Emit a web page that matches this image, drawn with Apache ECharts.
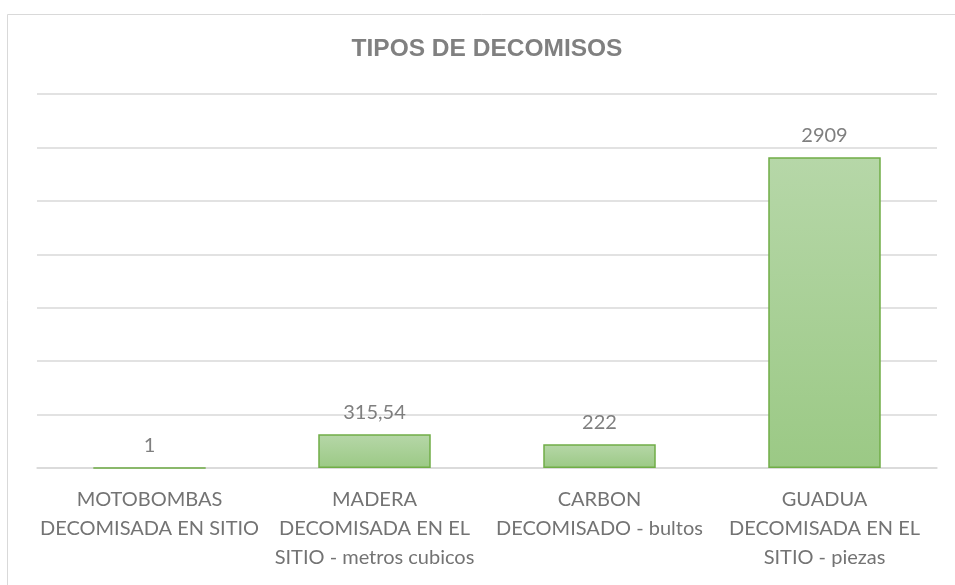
<!DOCTYPE html>
<html>
<head>
<meta charset="utf-8">
<script src="https://cdn.jsdelivr.net/npm/echarts@6/dist/echarts.min.js"></script>
<style>
  html, body { margin: 0; padding: 0; background: #ffffff; }
  #chart { width: 955px; height: 585px; }
</style>
</head>
<body>
<div id="chart"></div>
<script>
// Seizure categories (line breaks kept as shown under each bar)
const categories = [
  'MOTOBOMBAS\nDECOMISADA EN SITIO',
  'MADERA\nDECOMISADA EN EL\nSITIO - metros cubicos',
  'CARBON\nDECOMISADO - bultos',
  'GUADUA\nDECOMISADA EN EL\nSITIO - piezas'
];
const values = [1, 315.54, 222, 2909];
const axisMin = 0;
const axisMax = 3500;
const axisStep = 500;

const chart = echarts.init(document.getElementById('chart'), null, { renderer: 'canvas' });

const labelFont = 'Lato, "Open Sans", "Noto Sans", sans-serif';
const titleFont = '"Liberation Sans", Arial, sans-serif';

// plot area edges; the title is centred over it
const plotLeft = 37;
const plotRight = 18;
const plotCenter = plotLeft + (955 - plotLeft - plotRight) / 2;

chart.setOption({
  animation: false,
  backgroundColor: '#ffffff',
  title: {
    text: 'TIPOS DE DECOMISOS',
    left: plotCenter,
    textAlign: 'center',
    top: 37,
    padding: 0,
    textStyle: {
      fontFamily: titleFont,
      fontSize: 24.5,
      fontWeight: 'bold',
      color: '#808080'
    }
  },
  graphic: [{
    type: 'rect',
    shape: { x: 7.5, y: 14.5, width: 1000, height: 700 },
    style: { fill: 'none', stroke: '#d9d9d9', lineWidth: 1 },
    silent: true,
    z: -10
  }],
  grid: { left: plotLeft, right: plotRight, top: 94, bottom: 117, containLabel: false },
  xAxis: {
    type: 'category',
    data: categories,
    axisTick: { show: false },
    axisLine: { show: true, lineStyle: { color: '#d9d9d9', width: 1.5 } },
    axisLabel: {
      margin: 17,
      fontFamily: labelFont,
      fontSize: 20,
      lineHeight: 29,
      color: '#737373',
      interval: 0,
      align: 'center'
    }
  },
  yAxis: {
    type: 'value',
    min: axisMin,
    max: axisMax,
    interval: axisStep,
    axisLabel: { show: false },
    axisLine: { show: false },
    axisTick: { show: false },
    splitLine: { lineStyle: { color: '#d9d9d9', width: 1.5 } }
  },
  series: [{
    type: 'bar',
    data: values,
    barWidth: '50%',
    itemStyle: {
      color: new echarts.graphic.LinearGradient(0, 0, 0, 1, [
        { offset: 0, color: '#b6d7a8' },
        { offset: 1, color: '#9bc985' }
      ]),
      borderColor: '#70ad47',
      borderWidth: 1.5
    },
    label: {
      show: true,
      position: 'top',
      distance: 12,
      fontFamily: labelFont,
      fontSize: 20,
      color: '#7f7f7f',
      formatter: function (p) {
        return String(p.value).replace('.', ',');
      }
    }
  }]
});
</script>
</body>
</html>
